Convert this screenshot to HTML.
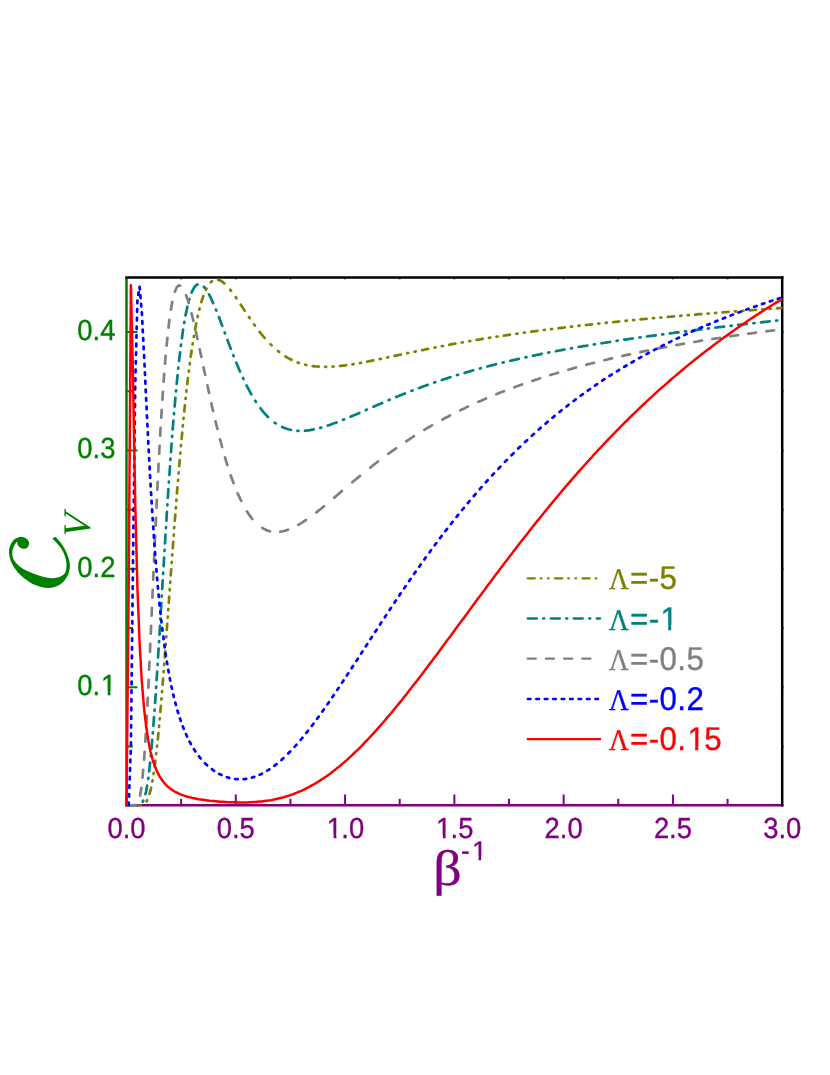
<!DOCTYPE html>
<html><head><meta charset="utf-8"><title>C_V vs beta^-1</title>
<style>html,body{margin:0;padding:0;background:#fff}svg{display:block;will-change:transform}text{white-space:pre}</style></head>
<body>
<svg width="830" height="1075" viewBox="0 0 830 1075" text-rendering="geometricPrecision">
<rect width="830" height="1075" fill="#fff"/>
<defs><clipPath id="pc"><rect x="125.5" y="277.6" width="657.0" height="528.9"/></clipPath></defs>
<g stroke-width="2.5" fill="none">
<line x1="125.25" y1="805.30" x2="783.45" y2="805.30" stroke="#800080"/>
<line x1="126.50" y1="277.60" x2="126.50" y2="806.55" stroke="#008000"/>
<line x1="125.25" y1="277.60" x2="783.45" y2="277.60" stroke="#000"/>
<line x1="782.20" y1="276.35" x2="782.20" y2="806.55" stroke="#000"/>
<line x1="181.14" y1="277.60" x2="181.14" y2="279.40" stroke="#000" stroke-width="2" stroke-opacity="0.6"/>
<line x1="235.78" y1="277.60" x2="235.78" y2="279.40" stroke="#000" stroke-width="2" stroke-opacity="0.6"/>
<line x1="290.43" y1="277.60" x2="290.43" y2="279.40" stroke="#000" stroke-width="2" stroke-opacity="0.6"/>
<line x1="345.07" y1="277.60" x2="345.07" y2="279.40" stroke="#000" stroke-width="2" stroke-opacity="0.6"/>
<line x1="399.71" y1="277.60" x2="399.71" y2="279.40" stroke="#000" stroke-width="2" stroke-opacity="0.6"/>
<line x1="454.36" y1="277.60" x2="454.36" y2="279.40" stroke="#000" stroke-width="2" stroke-opacity="0.6"/>
<line x1="509.00" y1="277.60" x2="509.00" y2="279.40" stroke="#000" stroke-width="2" stroke-opacity="0.6"/>
<line x1="563.64" y1="277.60" x2="563.64" y2="279.40" stroke="#000" stroke-width="2" stroke-opacity="0.6"/>
<line x1="618.28" y1="277.60" x2="618.28" y2="279.40" stroke="#000" stroke-width="2" stroke-opacity="0.6"/>
<line x1="672.92" y1="277.60" x2="672.92" y2="279.40" stroke="#000" stroke-width="2" stroke-opacity="0.6"/>
<line x1="727.57" y1="277.60" x2="727.57" y2="279.40" stroke="#000" stroke-width="2" stroke-opacity="0.6"/>
<line x1="782.20" y1="746.49" x2="783.80" y2="746.49" stroke="#000" stroke-width="2" stroke-opacity="0.6"/>
<line x1="782.20" y1="687.28" x2="783.80" y2="687.28" stroke="#000" stroke-width="2" stroke-opacity="0.6"/>
<line x1="782.20" y1="628.07" x2="783.80" y2="628.07" stroke="#000" stroke-width="2" stroke-opacity="0.6"/>
<line x1="782.20" y1="568.86" x2="783.80" y2="568.86" stroke="#000" stroke-width="2" stroke-opacity="0.6"/>
<line x1="782.20" y1="509.65" x2="783.80" y2="509.65" stroke="#000" stroke-width="2" stroke-opacity="0.6"/>
<line x1="782.20" y1="450.44" x2="783.80" y2="450.44" stroke="#000" stroke-width="2" stroke-opacity="0.6"/>
<line x1="782.20" y1="391.23" x2="783.80" y2="391.23" stroke="#000" stroke-width="2" stroke-opacity="0.6"/>
<line x1="782.20" y1="332.02" x2="783.80" y2="332.02" stroke="#000" stroke-width="2" stroke-opacity="0.6"/>
</g>
<g stroke-width="2" fill="none">
<line x1="126.50" y1="746.49" x2="133.00" y2="746.49" stroke="#008000"/>
<line x1="126.50" y1="687.28" x2="137.50" y2="687.28" stroke="#008000"/>
<line x1="126.50" y1="628.07" x2="133.00" y2="628.07" stroke="#008000"/>
<line x1="126.50" y1="568.86" x2="137.50" y2="568.86" stroke="#008000"/>
<line x1="126.50" y1="509.65" x2="133.00" y2="509.65" stroke="#008000"/>
<line x1="126.50" y1="450.44" x2="137.50" y2="450.44" stroke="#008000"/>
<line x1="126.50" y1="391.23" x2="133.00" y2="391.23" stroke="#008000"/>
<line x1="126.50" y1="332.02" x2="137.50" y2="332.02" stroke="#008000"/>
<line x1="126.50" y1="805.30" x2="126.50" y2="794.50" stroke="#800080"/>
<line x1="181.14" y1="805.30" x2="181.14" y2="798.80" stroke="#800080"/>
<line x1="235.78" y1="805.30" x2="235.78" y2="794.50" stroke="#800080"/>
<line x1="290.43" y1="805.30" x2="290.43" y2="798.80" stroke="#800080"/>
<line x1="345.07" y1="805.30" x2="345.07" y2="794.50" stroke="#800080"/>
<line x1="399.71" y1="805.30" x2="399.71" y2="798.80" stroke="#800080"/>
<line x1="454.36" y1="805.30" x2="454.36" y2="794.50" stroke="#800080"/>
<line x1="509.00" y1="805.30" x2="509.00" y2="798.80" stroke="#800080"/>
<line x1="563.64" y1="805.30" x2="563.64" y2="794.50" stroke="#800080"/>
<line x1="618.28" y1="805.30" x2="618.28" y2="798.80" stroke="#800080"/>
<line x1="672.92" y1="805.30" x2="672.92" y2="794.50" stroke="#800080"/>
<line x1="727.57" y1="805.30" x2="727.57" y2="798.80" stroke="#800080"/>
</g>
<g clip-path="url(#pc)" fill="none" stroke-width="2.7" stroke-linejoin="round" stroke-linecap="round">
<path d="M782.2 307.9 L780.0 308.1 L777.8 308.2 L777.1 308.3M770.8 308.7 L769.7 308.8M763.4 309.3 L762.5 309.3 L762.2 309.4M755.9 309.8 L753.8 310.0 L751.6 310.2 L749.8 310.3M743.5 310.8 L742.9 310.8 L742.4 310.8M736.0 311.3 L734.9 311.4M728.6 311.9 L727.6 312.0 L725.4 312.1 L723.2 312.3 L722.5 312.4M716.2 312.9 L715.0 313.0M708.7 313.5 L707.9 313.5 L707.6 313.6M701.3 314.1 L699.2 314.2 L697.0 314.4 L695.2 314.6M688.9 315.1 L688.2 315.2 L687.7 315.2M681.4 315.7 L680.3 315.8M674.0 316.4 L672.9 316.5 L670.7 316.7 L668.6 316.8 L667.8 316.9M661.5 317.5 L660.4 317.6M654.1 318.1 L653.3 318.2 L652.9 318.2M646.6 318.8 L644.5 319.0 L642.3 319.2 L640.5 319.4M634.2 320.0 L633.6 320.1 L633.1 320.1M626.8 320.7 L625.6 320.8M619.3 321.5 L618.3 321.6 L616.1 321.8 L613.9 322.0 L613.2 322.1M606.9 322.7 L605.8 322.9M599.4 323.5 L598.6 323.6 L598.3 323.6M592.0 324.3 L589.9 324.6 L587.7 324.8 L585.9 325.0M579.6 325.7 L578.9 325.8 L578.4 325.8M572.1 326.6 L571.0 326.7M564.7 327.4 L563.6 327.6 L561.5 327.8 L559.3 328.1 L558.6 328.2M552.2 329.0 L551.1 329.1M544.8 329.9 L544.0 330.0 L543.7 330.0M537.4 330.9 L535.2 331.2 L533.0 331.4 L531.2 331.7M524.9 332.6 L524.3 332.6 L523.8 332.7M517.5 333.6 L516.3 333.8M510.0 334.7 L509.0 334.8 L506.8 335.2 L504.6 335.5 L503.9 335.6M497.6 336.5 L496.5 336.7M490.2 337.7 L489.3 337.8 L489.0 337.9M482.7 338.9 L480.6 339.3 L478.4 339.6 L476.6 339.9M470.3 341.0 L469.7 341.1 L469.2 341.2M462.8 342.3 L461.7 342.5M455.4 343.6 L454.4 343.8 L452.2 344.2 L450.0 344.6 L449.3 344.8M443.0 346.0 L441.8 346.2M435.5 347.4 L434.7 347.6 L434.4 347.6M428.1 348.9 L425.9 349.3 L423.8 349.8 L422.0 350.1M415.7 351.4 L415.0 351.6 L414.5 351.7M408.2 353.0 L407.1 353.2M400.8 354.6 L399.7 354.8 L397.5 355.3 L395.3 355.7 L394.6 355.9M388.3 357.2 L387.2 357.5M380.9 358.8 L380.0 359.0 L379.7 359.1M373.4 360.4 L371.3 360.8 L369.1 361.2 L367.3 361.6M361.0 362.8 L360.4 362.9 L359.9 363.0M353.6 364.1 L352.4 364.3M346.1 365.2 L345.1 365.4 L342.9 365.6 L340.7 365.9 L340.0 366.0M333.7 366.5 L332.6 366.6M326.2 366.8 L325.4 366.8 L325.1 366.8M318.8 366.7 L316.7 366.5 L314.5 366.3 L312.7 366.1M306.4 365.0 L305.7 364.8 L305.2 364.7M298.9 362.9 L297.8 362.5M291.5 359.8 L290.4 359.2 L288.2 358.1 L286.1 356.8 L285.4 356.4M279.1 351.9 L277.9 351.0M271.6 345.4 L270.8 344.6 L270.5 344.3M264.6 338.0 L264.2 337.5 L262.0 334.9 L259.8 332.2 L259.6 331.9M254.9 325.6 L254.1 324.4M249.7 318.1 L248.9 317.0 L248.9 317.0M244.7 310.7 L242.3 307.1 L240.7 304.6M236.4 298.3 L235.8 297.3 L235.7 297.1M231.1 290.8 L230.2 289.7M224.4 283.4 L222.7 282.0 L220.5 280.7 L218.3 279.8 L218.3 279.8M212.0 281.3 L210.8 282.3M206.5 288.6 L205.9 289.8M203.3 296.1 L203.0 296.8 L201.3 302.2M199.6 308.5 L199.3 309.6M197.8 315.9 L197.6 317.1M196.2 323.4 L195.1 329.5M193.9 335.8 L193.8 336.9M192.7 343.3 L192.6 344.4M191.6 350.7 L190.7 356.8M189.8 363.1 L189.7 364.3M188.9 370.6 L188.8 371.7M188.0 378.0 L187.7 380.1 L187.2 384.1M186.5 390.4 L186.4 391.6M185.7 397.9 L185.6 399.0M184.9 405.3 L184.3 411.5M183.6 417.8 L183.5 418.9M182.9 425.2 L182.8 426.4M182.2 432.7 L181.6 438.8M181.0 445.1 L180.9 446.2M180.4 452.5 L180.3 453.7M179.7 460.0 L179.2 466.1M178.7 472.4 L178.6 473.5M178.1 479.9 L178.0 481.0M177.4 487.3 L176.9 493.4M176.4 499.7 L176.4 500.9M175.9 507.2 L175.8 508.3M175.3 514.6 L174.8 520.7M174.3 527.0 L174.2 528.2M173.8 534.5 L173.7 535.6M173.2 541.9 L172.8 548.1M172.3 554.4 L172.2 555.5M171.7 561.8 L171.7 563.0M171.2 569.3 L170.7 575.4M170.3 581.7 L170.2 582.7 L170.2 582.8M169.7 589.1 L169.7 590.3M169.2 596.6 L168.8 602.7M168.3 609.0 L168.2 610.1M167.8 616.5 L167.7 617.6M167.2 623.9 L166.8 630.0M166.3 636.3 L166.2 637.5M165.8 643.8 L165.7 644.9M165.2 651.2 L164.7 657.3M164.3 663.6 L164.2 664.8M163.7 671.1 L163.7 671.7 L163.6 672.2M163.1 678.5 L162.6 684.7M162.1 691.0 L162.0 692.1M161.5 698.4 L161.5 699.0 L161.4 699.6M160.9 705.9 L160.3 712.0M159.8 718.3 L159.7 719.4M159.1 725.7 L159.0 726.9M158.4 733.2 L157.8 739.3M157.1 745.6 L157.0 746.7M156.3 753.1 L156.1 754.2M155.4 760.5 L154.9 764.7 L154.6 766.6M153.7 772.9 L153.5 774.1M152.6 780.4 L152.3 781.5M151.1 787.8 L150.5 790.5 L149.5 793.9M147.1 800.2 L146.6 801.4M140.7 805.3 L139.6 805.4 L139.5 805.4M133.2 805.4 L130.9 805.4 L128.7 805.4 L127.1 805.4" stroke="#808000"/>
<path d="M777.3 320.5 L776.2 320.6M769.7 321.3 L769.1 321.4 L766.9 321.7 L764.7 321.9 L762.5 322.1 L761.0 322.3M754.5 323.1 L753.8 323.1 L753.4 323.2M746.9 323.9 L745.1 324.1 L742.9 324.4 L740.7 324.7 L738.5 324.9 L738.2 324.9M731.7 325.7 L730.6 325.8M724.1 326.6 L723.2 326.7 L721.0 327.0 L718.8 327.2 L716.6 327.5 L715.4 327.7M708.9 328.4 L707.9 328.6 L707.8 328.6M701.3 329.4 L699.2 329.6 L697.0 329.9 L694.8 330.2 L692.6 330.5 L692.6 330.5M686.1 331.3 L685.0 331.4M678.5 332.3 L677.3 332.4 L675.1 332.7 L672.9 333.0 L670.7 333.3 L669.8 333.4M663.3 334.3 L662.2 334.4M655.7 335.3 L653.3 335.6 L651.1 335.9 L648.9 336.2 L647.0 336.5M640.5 337.4 L639.4 337.5M632.9 338.5 L631.4 338.7 L629.2 339.0 L627.0 339.3 L624.8 339.6 L624.2 339.7M617.7 340.7 L616.6 340.9M610.1 341.9 L609.5 342.0 L607.4 342.3 L605.2 342.7 L603.0 343.0 L601.4 343.3M594.9 344.3 L594.2 344.4 L593.8 344.5M587.3 345.6 L585.5 345.9 L583.3 346.2 L581.1 346.6 L578.9 347.0 L578.6 347.0M572.1 348.2 L571.0 348.4M564.5 349.5 L563.6 349.7 L561.5 350.1 L559.3 350.5 L557.1 350.9 L555.8 351.2M549.3 352.4 L548.3 352.6 L548.2 352.6M541.7 353.9 L539.6 354.4 L537.4 354.8 L535.2 355.3 L533.0 355.7 L533.0 355.7M526.5 357.1 L525.4 357.4M518.9 358.8 L517.7 359.1 L515.6 359.6 L513.4 360.1 L511.2 360.6 L510.2 360.8M503.7 362.4 L502.6 362.6M496.1 364.2 L493.7 364.8 L491.5 365.4 L489.3 366.0 L487.4 366.5M480.9 368.2 L479.8 368.5M473.3 370.3 L471.8 370.7 L469.7 371.4 L467.5 372.0 L465.3 372.6 L464.6 372.9M458.1 374.8 L457.0 375.1M450.5 377.2 L450.0 377.3 L447.8 378.1 L445.6 378.8 L443.4 379.5 L441.8 380.0M435.3 382.2 L434.7 382.4 L434.2 382.6M427.7 384.9 L425.9 385.5 L423.8 386.3 L421.6 387.1 L419.4 387.9 L419.0 388.1M412.5 390.5 L411.4 390.9M404.9 393.5 L404.1 393.8 L401.9 394.7 L399.7 395.6 L397.5 396.5 L396.2 397.0M389.7 399.7 L388.8 400.1 L388.6 400.2M382.1 403.0 L380.0 403.9 L377.9 404.8 L375.7 405.7 L373.5 406.7 L373.4 406.7M366.9 409.6 L365.8 410.1M359.3 412.9 L358.2 413.4 L356.0 414.4 L353.8 415.3 L351.6 416.2 L350.6 416.7M344.1 419.4 L343.0 419.8M336.5 422.4 L334.1 423.3 L332.0 424.1 L329.8 424.9 L327.8 425.6M321.3 427.6 L320.2 427.9M313.7 429.4 L312.3 429.7 L310.1 430.1 L307.9 430.4 L305.7 430.6 L305.0 430.7M298.5 430.8 L297.4 430.8M290.9 429.9 L290.4 429.8 L288.2 429.2 L286.1 428.5 L283.9 427.7 L282.2 427.0M275.7 423.3 L275.1 422.9 L274.6 422.6M268.1 417.1 L266.4 415.3 L264.2 412.9 L262.0 410.3 L260.5 408.3M255.9 401.8 L255.5 401.2 L255.2 400.8M251.3 394.3 L248.9 389.9 L246.7 385.7 L246.6 385.5M243.5 379.0 L243.0 378.0M240.0 371.5 L238.0 366.7 L236.3 362.7M233.7 356.2 L233.3 355.2M230.8 348.7 L229.2 344.7 L227.4 339.9M225.0 333.4 L224.6 332.4M222.2 325.9 L220.5 321.3 L218.9 317.1M216.3 310.6 L216.1 310.1 L215.9 309.6M213.1 303.1 L211.7 299.9 L209.6 295.4 L208.9 294.3M204.8 287.8 L203.9 286.8M197.5 284.5 L196.4 284.9 L194.3 287.3 L192.1 291.4 L191.6 292.6M189.4 299.1 L189.1 300.2M187.4 306.7 L185.5 315.4M184.4 321.9 L184.2 323.0M183.1 329.5 L181.9 338.2M181.0 344.7 L180.9 345.8M180.1 352.3 L179.0 361.0M178.3 367.5 L178.2 368.6M177.6 375.1 L176.8 382.6 L176.7 383.8M176.1 390.3 L176.0 391.4M175.4 397.9 L174.6 406.5 L174.6 406.6M174.0 413.1 L174.0 414.2M173.4 420.7 L172.7 429.4M172.2 435.9 L172.1 437.0M171.6 443.5 L171.0 452.2M170.5 458.7 L170.4 459.8M170.0 466.3 L169.4 475.0M168.9 481.5 L168.9 482.6M168.4 489.1 L168.0 494.8 L167.8 497.8M167.4 504.3 L167.4 505.4M166.9 511.9 L166.4 520.6M166.0 527.1 L165.9 528.2M165.5 534.7 L165.0 543.4M164.6 549.9 L164.5 551.0M164.1 557.5 L163.7 564.6 L163.6 566.2M163.2 572.7 L163.1 573.8M162.7 580.3 L162.2 589.0M161.8 595.5 L161.7 596.6M161.4 603.1 L160.8 611.8M160.4 618.3 L160.4 619.4M160.0 625.9 L159.5 634.6M159.1 641.1 L159.0 642.2M158.6 648.7 L158.0 657.4M157.6 663.9 L157.6 665.0M157.2 671.5 L157.1 672.6 L156.6 680.2M156.2 686.7 L156.1 687.8M155.7 694.3 L155.1 703.0M154.6 709.5 L154.5 710.6M154.0 717.1 L153.4 725.8M152.9 732.3 L152.8 733.4M152.2 739.9 L151.5 748.6M150.9 755.1 L150.8 756.2M150.1 762.7 L149.1 771.4M148.4 777.9 L148.2 779.0M147.1 785.5 L146.2 791.3 L145.4 794.2M143.3 800.7 L142.7 801.8M137.0 805.4 L135.2 805.4 L133.1 805.4 L130.9 805.4 L128.7 805.4 L128.3 805.4" stroke="#008080"/>
<path d="M774.0 330.3 L773.5 330.4 L771.3 330.7 L769.1 331.0 L766.9 331.2 L766.3 331.3M756.0 332.7 L753.8 333.0 L751.6 333.3 L749.4 333.5 L748.3 333.7M738.0 335.1 L736.3 335.4 L734.1 335.7 L731.9 336.0 L730.3 336.3M720.0 337.8 L718.8 338.0 L716.6 338.3 L714.5 338.6 L712.3 339.0M702.0 340.6 L701.3 340.7 L699.2 341.1 L697.0 341.5 L694.8 341.8 L694.3 341.9M684.0 343.7 L681.7 344.1 L679.5 344.5 L677.3 344.9 L676.3 345.1M666.0 347.0 L664.2 347.3 L662.0 347.7 L659.8 348.1 L658.3 348.4M648.0 350.5 L646.7 350.7 L644.5 351.2 L642.3 351.6 L640.3 352.1M630.0 354.3 L629.2 354.4 L627.0 354.9 L624.8 355.4 L622.7 355.9 L622.3 356.0M612.0 358.4 L609.5 358.9 L607.4 359.5 L605.2 360.0 L604.3 360.2M594.0 362.8 L592.1 363.3 L589.9 363.8 L587.7 364.4 L586.3 364.8M576.0 367.5 L574.6 367.9 L572.4 368.6 L570.2 369.2 L568.3 369.7M558.0 372.7 L557.1 373.0 L554.9 373.7 L552.7 374.3 L550.5 375.0 L550.3 375.1M540.0 378.3 L537.4 379.2 L535.2 379.9 L533.0 380.7 L532.3 380.9M522.0 384.5 L519.9 385.2 L517.7 386.0 L515.6 386.8 L514.3 387.3M504.0 391.2 L502.4 391.8 L500.3 392.6 L498.1 393.5 L496.3 394.2M486.0 398.5 L485.0 399.0 L482.8 399.9 L480.6 400.9 L478.4 401.8 L478.3 401.9M468.0 406.6 L467.5 406.8 L465.3 407.9 L463.1 408.9 L460.9 410.0 L460.3 410.3M450.0 415.5 L447.8 416.7 L445.6 417.8 L443.4 419.0 L442.3 419.6M432.0 425.3 L430.3 426.3 L428.1 427.6 L425.9 428.9 L424.3 429.9M414.0 436.2 L412.8 437.0 L410.6 438.4 L408.5 439.8 L406.3 441.3M396.0 448.3 L395.3 448.8 L393.2 450.3 L391.0 451.9 L388.8 453.5 L388.3 453.8M378.0 461.5 L375.7 463.3 L373.5 465.0 L371.3 466.8 L370.3 467.6M360.0 475.9 L358.2 477.4 L356.0 479.2 L353.8 481.0 L352.3 482.3M342.0 491.0 L340.7 492.1 L338.5 494.0 L336.3 495.9 L334.3 497.6M324.0 506.2 L323.2 506.9 L321.0 508.7 L318.8 510.4 L316.7 512.1 L316.3 512.4M306.0 520.0 L303.5 521.6 L301.4 523.0 L299.2 524.4 L298.3 524.9M288.0 529.7 L286.1 530.4 L283.9 531.0 L281.7 531.5 L280.3 531.7M270.0 531.3 L268.6 530.9 L266.4 530.1 L264.2 529.1 L262.3 528.0M252.4 519.0 L251.1 517.4 L248.9 514.4 L246.9 511.3M241.2 501.0 L240.2 498.9 L238.0 494.1 L237.6 493.3M233.5 483.0 L231.4 477.2 L230.7 475.3M227.4 465.0 L227.0 464.0 L225.0 457.3M222.1 447.0 L220.5 441.0 L220.0 439.3M217.4 429.0 L216.1 423.7 L215.5 421.3M213.1 411.0 L211.7 405.0 L211.4 403.3M209.1 393.0 L207.4 385.3M205.2 375.0 L203.5 367.3M201.4 357.0 L200.8 354.4 L199.7 349.3M197.5 339.0 L196.4 334.2 L195.8 331.3M193.4 321.0 L192.1 315.5 L191.5 313.3M188.7 303.0 L187.7 299.7 L186.1 295.3M180.2 285.7 L179.0 285.3 L176.8 287.3 L174.9 291.6M172.3 301.8 L170.9 309.6M169.4 319.8 L168.5 327.6M167.4 337.8 L166.6 345.6M165.6 355.8 L165.0 363.6M164.2 373.8 L163.7 380.5 L163.6 381.6M162.9 391.8 L162.4 399.6M161.7 409.8 L161.5 413.3 L161.2 417.6M160.6 427.8 L160.2 435.6M159.6 445.8 L159.3 451.3 L159.2 453.6M158.6 463.8 L158.3 471.6M157.7 481.8 L157.3 489.6M156.8 499.8 L156.5 507.6M156.0 517.8 L155.6 525.6M155.2 535.8 L154.9 540.9 L154.8 543.6M154.3 553.8 L154.0 561.6M153.5 571.8 L153.2 579.6M152.7 589.8 L152.4 597.6M151.9 607.8 L151.6 615.6M151.1 625.8 L150.8 633.6M150.3 643.8 L150.0 651.6M149.5 661.8 L149.1 669.6M148.7 679.8 L148.4 686.6 L148.3 687.6M147.8 697.8 L147.4 705.6M146.8 715.8 L146.4 723.6M145.8 733.8 L145.3 741.6M144.6 751.8 L144.1 759.6M143.2 769.8 L142.5 777.6M141.4 787.8 L140.1 795.6M135.6 805.1 L133.1 805.4 L130.9 805.4 L128.7 805.4 L127.8 805.4" stroke="#808080"/>
<path d="M780.2 298.1 L777.8 298.8 L777.8 298.8M772.3 300.6 L771.3 301.0 L769.9 301.4M764.4 303.3 L762.5 303.9 L762.0 304.1M756.5 306.0 L756.0 306.2 L754.1 306.8M748.6 308.8 L747.2 309.3 L746.3 309.7M740.8 311.7 L738.5 312.5 L738.4 312.5M733.0 314.6 L731.9 315.0 L730.6 315.5M725.2 317.6 L723.2 318.4 L722.8 318.6M717.4 320.7 L716.6 321.0 L715.1 321.7M709.7 323.9 L707.9 324.7 L707.3 324.9M702.0 327.2 L701.3 327.5 L699.6 328.2M694.3 330.6 L692.6 331.3 L691.9 331.6M686.6 334.0 L686.0 334.3 L684.3 335.1M679.0 337.6 L677.3 338.4 L676.7 338.7M671.4 341.2 L670.7 341.6 L669.1 342.4M663.8 345.0 L662.0 345.9 L661.5 346.2M656.3 348.9 L655.4 349.3 L654.0 350.1M648.8 352.9 L646.7 354.0 L646.5 354.1M641.3 357.0 L640.1 357.6 L639.0 358.2M633.9 361.2 L631.6 362.5M626.5 365.5 L624.8 366.5 L624.2 366.8M619.1 370.0 L618.3 370.5 L616.9 371.3M611.8 374.5 L609.5 375.9M604.5 379.2 L603.0 380.2 L602.3 380.7M597.2 384.1 L596.4 384.6 L595.0 385.6M590.0 389.1 L587.8 390.6M582.9 394.2 L581.1 395.4 L580.7 395.7M575.7 399.4 L574.6 400.3 L573.6 401.0M568.6 404.8 L568.0 405.3 L566.5 406.5M561.6 410.3 L559.5 412.0M554.6 416.0 L552.7 417.6 L552.5 417.8M547.7 421.8 L546.2 423.1 L545.6 423.6M540.7 427.8 L539.6 428.8 L538.7 429.6M533.9 433.9 L533.0 434.7 L531.8 435.8M527.1 440.2 L526.5 440.7 L525.0 442.1M520.3 446.6 L518.2 448.6M513.6 453.2 L511.5 455.2M506.9 459.9 L504.9 461.9M500.4 466.6 L498.4 468.7M494.0 473.4 L492.1 475.4M487.7 480.2 L487.1 480.8 L485.8 482.3M481.6 487.1 L480.6 488.2 L479.8 489.2M475.6 494.0 L474.0 495.8 L473.8 496.1M469.7 500.9 L467.9 503.0M463.9 507.9 L463.1 508.8 L462.1 510.0M458.2 514.8 L456.5 516.9 L456.5 517.0M452.6 521.9 L452.2 522.4 L450.9 524.0M447.1 528.9 L445.6 530.8 L445.4 531.1M441.7 536.0 L441.2 536.5 L440.0 538.1M436.3 543.1 L434.7 545.2M431.0 550.2 L430.3 551.2 L429.5 552.4M425.8 557.3 L424.3 559.5M420.7 564.5 L419.4 566.4 L419.2 566.7M415.6 571.7 L415.0 572.6 L414.1 573.9M410.6 578.9 L409.1 581.1M405.7 586.1 L404.2 588.3M400.7 593.3 L399.7 594.8 L399.3 595.5M395.9 600.5 L395.3 601.3 L394.4 602.7M391.0 607.8 L389.6 610.0M386.2 615.1 L384.8 617.3M381.4 622.3 L380.0 624.5 L380.0 624.5M376.7 629.6 L375.7 631.2 L375.2 631.8M371.9 636.9 L371.3 637.9 L370.5 639.1M367.2 644.2 L366.9 644.6 L365.8 646.4M362.5 651.4 L361.1 653.6M357.8 658.7 L356.3 660.9M353.0 666.0 L351.6 668.2 L351.6 668.2M348.3 673.3 L347.3 674.8 L346.8 675.5M343.5 680.5 L342.9 681.5 L342.0 682.7M338.7 687.8 L337.2 690.0M333.8 695.0 L332.3 697.2M328.9 702.2 L327.6 704.1 L327.3 704.4M323.8 709.4 L323.2 710.3 L322.3 711.6M318.7 716.6 L317.1 718.8M313.4 723.7 L312.3 725.3 L311.8 725.9M308.0 730.8 L306.3 732.9M302.4 737.8 L301.4 739.0 L300.6 739.9M296.5 744.7 L294.8 746.6 L294.6 746.8M290.2 751.5 L288.2 753.5 L288.2 753.6M283.5 758.1 L281.7 759.8 L281.4 760.0M276.6 764.1 L275.1 765.2 L274.4 765.8M269.4 769.3 L268.6 769.9 L267.2 770.7M262.0 773.7 L259.8 774.7 L259.7 774.8M254.3 776.9 L253.3 777.2 L251.9 777.6M246.2 778.8 L244.5 779.1 L243.6 779.1M237.7 779.2 L235.8 779.1 L235.1 779.0M229.3 777.9 L227.0 777.2 L226.9 777.2M221.5 775.0 L220.5 774.5 L219.2 773.9M214.1 770.8 L211.9 769.2M207.1 765.2 L205.2 763.4 L205.0 763.2M200.7 758.5 L199.0 756.3M195.4 751.4 L194.3 749.7 L193.9 749.2M190.9 744.0 L189.9 742.2 L189.6 741.7M187.0 736.5 L186.0 734.1M183.7 728.8 L183.3 727.9 L182.8 726.4M180.8 720.9 L180.0 718.5M178.2 713.0 L177.5 710.6M175.9 705.0 L175.3 702.6M173.8 696.9 L173.3 694.5M172.0 688.8 L171.4 686.3M170.2 680.6 L169.8 678.1M168.7 672.4 L168.3 669.9M167.3 664.1 L166.9 661.6M165.9 655.8 L165.8 655.2 L165.6 653.3M164.7 647.4 L164.4 644.9M163.6 639.1 L163.3 636.6M162.5 630.7 L162.2 628.2M161.5 622.3 L161.2 619.8M160.6 613.9 L160.3 611.3M159.7 605.5 L159.4 602.9M158.8 597.0 L158.6 594.5M158.0 588.6 L157.8 586.0M157.3 580.1 L157.1 578.4 L157.0 577.5M156.6 571.6 L156.3 569.0M155.9 563.1 L155.7 560.5M155.2 554.6 L155.0 552.0M154.5 546.1 L154.4 543.5M153.9 537.6 L153.8 535.0M153.4 529.1 L153.2 526.5M152.8 520.5 L152.6 518.0M152.2 512.0 L152.1 509.4M151.7 503.5 L151.5 500.9M151.2 494.9 L151.0 492.3M150.7 486.4 L150.5 484.4 L150.5 483.8M150.2 477.8 L150.0 475.2M149.7 469.3 L149.6 466.7M149.3 460.7 L149.1 458.1M148.8 452.1 L148.7 449.5M148.3 443.6 L148.2 441.0M147.9 435.0 L147.8 432.4M147.5 426.4 L147.4 423.8M147.1 417.9 L146.9 415.3M146.6 409.3 L146.5 406.7M146.2 400.7 L146.2 399.7 L146.1 398.1M145.8 392.1 L145.7 389.5M145.4 383.6 L145.3 380.9M145.0 375.0 L144.9 372.4M144.6 366.4 L144.5 363.8M144.2 357.8 L144.1 355.2M143.7 349.2 L143.6 346.6M143.3 340.7 L143.2 338.1M142.8 332.1 L142.7 329.5M142.4 323.6 L142.3 321.0M142.0 315.0 L141.8 312.4M141.3 306.5 L141.1 303.9M140.6 298.0 L140.4 295.4M139.9 289.5 L139.6 286.9M138.7 292.3 L138.3 294.8M137.4 300.6 L137.3 303.2M137.2 309.2 L137.1 311.8M137.0 317.8 L136.9 320.5M136.7 326.5 L136.7 329.1M136.5 335.1 L136.4 337.7M136.3 343.7 L136.2 346.4M136.1 352.4 L136.0 355.0M135.8 361.0 L135.8 363.6M135.6 369.6 L135.5 372.3M135.4 378.3 L135.3 380.9M135.2 386.9 L135.2 389.5M135.1 395.6 L135.1 398.2M135.0 404.2 L135.0 406.9M134.9 412.9 L134.8 415.5M134.8 421.6 L134.7 424.2M134.7 430.3 L134.6 432.9M134.6 438.9 L134.5 441.5M134.4 447.6 L134.4 450.2M134.3 456.3 L134.3 458.9M134.2 464.9 L134.2 467.5M134.1 473.6 L134.1 476.2M134.0 482.3 L134.0 484.9M133.9 490.9 L133.9 493.6M133.8 499.6 L133.8 502.2M133.7 508.3 L133.6 510.9M133.6 516.9 L133.5 519.6M133.5 525.6 L133.4 528.2M133.3 534.3 L133.3 536.9M133.2 542.9 L133.2 545.6M133.1 551.6 L133.1 554.2M133.0 560.3 L133.0 562.9M132.9 568.9 L132.9 571.6M132.8 577.6 L132.8 580.2M132.7 586.3 L132.7 588.9M132.6 594.9 L132.6 597.6M132.5 603.6 L132.5 606.2M132.4 612.3 L132.4 614.9M132.3 621.0 L132.3 623.6M132.2 629.6 L132.2 632.3M132.1 638.3 L132.1 640.9M132.0 647.0 L132.0 649.6M131.9 655.6 L131.9 658.3M131.8 664.3 L131.8 666.9M131.7 673.0 L131.7 675.6M131.6 681.6 L131.6 684.3M131.5 690.3 L131.5 692.9M131.4 699.0 L131.4 701.6M131.3 707.7 L131.3 710.3M131.2 716.3 L131.2 719.0M131.1 725.0 L131.1 727.6M131.0 733.7 L131.0 736.3M130.9 742.3 L130.9 745.0M130.8 751.0 L130.7 753.6M130.4 759.6 L130.3 762.2M130.1 768.2 L130.0 770.8M129.8 776.8 L129.7 779.4M129.4 785.4 L129.3 788.0M129.1 794.0 L129.0 796.6M128.8 802.6 L128.7 805.2 L128.7 805.2" stroke="#0000ff"/>
<path d="M782.2 299.0 L780.0 300.3 L777.8 301.6 L775.7 302.9 L773.5 304.3 L771.3 305.7 L769.1 307.0 L766.9 308.4 L764.7 309.8 L762.5 311.2 L760.4 312.6 L758.2 314.0 L756.0 315.4 L753.8 316.9 L751.6 318.3 L749.4 319.8 L747.2 321.2 L745.1 322.7 L742.9 324.2 L740.7 325.7 L738.5 327.2 L736.3 328.7 L734.1 330.3 L731.9 331.8 L729.8 333.4 L727.6 334.9 L725.4 336.5 L723.2 338.1 L721.0 339.7 L718.8 341.3 L716.6 342.9 L714.5 344.6 L712.3 346.2 L710.1 347.9 L707.9 349.6 L705.7 351.2 L703.5 352.9 L701.3 354.6 L699.2 356.3 L697.0 358.1 L694.8 359.8 L692.6 361.6 L690.4 363.3 L688.2 365.1 L686.0 366.9 L683.9 368.7 L681.7 370.5 L679.5 372.4 L677.3 374.2 L675.1 376.1 L672.9 377.9 L670.7 379.8 L668.6 381.7 L666.4 383.6 L664.2 385.6 L662.0 387.5 L659.8 389.4 L657.6 391.4 L655.4 393.4 L653.3 395.4 L651.1 397.4 L648.9 399.4 L646.7 401.4 L644.5 403.5 L642.3 405.5 L640.1 407.6 L638.0 409.7 L635.8 411.8 L633.6 413.9 L631.4 416.0 L629.2 418.2 L627.0 420.3 L624.8 422.5 L622.7 424.7 L620.5 426.9 L618.3 429.1 L616.1 431.3 L613.9 433.6 L611.7 435.8 L609.5 438.1 L607.4 440.4 L605.2 442.7 L603.0 445.0 L600.8 447.3 L598.6 449.7 L596.4 452.0 L594.2 454.4 L592.1 456.8 L589.9 459.2 L587.7 461.6 L585.5 464.0 L583.3 466.5 L581.1 468.9 L578.9 471.4 L576.8 473.9 L574.6 476.4 L572.4 478.9 L570.2 481.4 L568.0 483.9 L565.8 486.5 L563.6 489.1 L561.5 491.6 L559.3 494.2 L557.1 496.9 L554.9 499.5 L552.7 502.1 L550.5 504.8 L548.3 507.4 L546.2 510.1 L544.0 512.8 L541.8 515.5 L539.6 518.2 L537.4 520.9 L535.2 523.6 L533.0 526.4 L530.9 529.1 L528.7 531.9 L526.5 534.7 L524.3 537.5 L522.1 540.3 L519.9 543.1 L517.7 545.9 L515.6 548.7 L513.4 551.6 L511.2 554.4 L509.0 557.3 L506.8 560.2 L504.6 563.0 L502.4 565.9 L500.3 568.8 L498.1 571.7 L495.9 574.6 L493.7 577.5 L491.5 580.5 L489.3 583.4 L487.1 586.3 L485.0 589.3 L482.8 592.2 L480.6 595.2 L478.4 598.1 L476.2 601.1 L474.0 604.0 L471.8 607.0 L469.7 610.0 L467.5 612.9 L465.3 615.9 L463.1 618.9 L460.9 621.8 L458.7 624.8 L456.5 627.8 L454.4 630.7 L452.2 633.7 L450.0 636.7 L447.8 639.6 L445.6 642.6 L443.4 645.5 L441.2 648.5 L439.1 651.4 L436.9 654.4 L434.7 657.3 L432.5 660.2 L430.3 663.1 L428.1 666.0 L425.9 668.9 L423.8 671.8 L421.6 674.7 L419.4 677.5 L417.2 680.4 L415.0 683.2 L412.8 686.0 L410.6 688.8 L408.5 691.6 L406.3 694.4 L404.1 697.1 L401.9 699.9 L399.7 702.6 L397.5 705.3 L395.3 707.9 L393.2 710.6 L391.0 713.2 L388.8 715.8 L386.6 718.4 L384.4 721.0 L382.2 723.5 L380.0 726.0 L377.9 728.4 L375.7 730.9 L373.5 733.3 L371.3 735.7 L369.1 738.0 L366.9 740.3 L364.7 742.6 L362.6 744.9 L360.4 747.1 L358.2 749.3 L356.0 751.4 L353.8 753.5 L351.6 755.6 L349.4 757.6 L347.3 759.6 L345.1 761.5 L342.9 763.4 L340.7 765.2 L338.5 767.1 L336.3 768.8 L334.1 770.6 L332.0 772.2 L329.8 773.9 L327.6 775.5 L325.4 777.0 L323.2 778.5 L321.0 779.9 L318.8 781.3 L316.7 782.7 L314.5 784.0 L312.3 785.2 L310.1 786.4 L307.9 787.6 L305.7 788.7 L303.5 789.8 L301.4 790.8 L299.2 791.7 L297.0 792.7 L294.8 793.5 L292.6 794.3 L290.4 795.1 L288.2 795.9 L286.1 796.5 L283.9 797.2 L281.7 797.8 L279.5 798.3 L277.3 798.8 L275.1 799.3 L272.9 799.8 L270.8 800.2 L268.6 800.5 L266.4 800.8 L264.2 801.1 L262.0 801.4 L259.8 801.6 L257.6 801.8 L255.5 802.0 L253.3 802.1 L251.1 802.2 L248.9 802.3 L246.7 802.4 L244.5 802.4 L242.3 802.4 L240.2 802.4 L238.0 802.4 L235.8 802.4 L233.6 802.3 L231.4 802.3 L229.2 802.2 L227.0 802.1 L224.9 801.9 L222.7 801.8 L220.5 801.7 L218.3 801.5 L216.1 801.3 L213.9 801.1 L211.7 800.9 L209.6 800.7 L207.4 800.4 L205.2 800.1 L203.0 799.8 L200.8 799.5 L198.6 799.2 L196.4 798.8 L194.3 798.3 L192.1 797.9 L189.9 797.3 L187.7 796.8 L185.5 796.1 L183.3 795.4 L181.1 794.6 L179.0 793.7 L176.8 792.6 L174.6 791.5 L172.4 790.1 L170.2 788.6 L168.0 786.8 L165.8 784.7 L163.7 782.2 L161.5 779.3 L159.3 775.8 L157.1 771.6 L154.9 766.3 L152.7 759.8 L150.5 751.6 L148.4 740.9 L146.2 726.8 L144.0 707.8 L141.8 681.2 L139.6 643.1 L137.4 586.7 L135.2 501.8 L133.1 381.5 L130.9 285.3 L128.7 584.9 L126.5 805.4" stroke="#ff0000" stroke-width="2.5"/>
</g>
<g transform="translate(77.31 695.08) scale(1 1.060)"><text x="0" y="0" font-family="Liberation Sans, sans-serif" font-size="27.40" fill="#008000" stroke="#008000" stroke-width="0.35">0.<tspan dx="0.82">1</tspan></text><rect x="25.01" y="-3.61" width="5.38" height="5.35" fill="#fff"/><rect x="33.16" y="-3.61" width="5.72" height="5.35" fill="#fff"/></g>
<g transform="translate(77.31 576.66) scale(1 1.060)"><text x="0" y="0" font-family="Liberation Sans, sans-serif" font-size="27.40" fill="#008000" stroke="#008000" stroke-width="0.35">0.2</text></g>
<g transform="translate(77.31 458.24) scale(1 1.060)"><text x="0" y="0" font-family="Liberation Sans, sans-serif" font-size="27.40" fill="#008000" stroke="#008000" stroke-width="0.35">0.3</text></g>
<g transform="translate(77.31 339.82) scale(1 1.060)"><text x="0" y="0" font-family="Liberation Sans, sans-serif" font-size="27.40" fill="#008000" stroke="#008000" stroke-width="0.35">0.4</text></g>
<g transform="translate(107.46 838.40) scale(1 1.060)"><text x="0" y="0" font-family="Liberation Sans, sans-serif" font-size="27.40" fill="#800080" stroke="#800080" stroke-width="0.35">0.0</text></g>
<g transform="translate(216.74 838.40) scale(1 1.060)"><text x="0" y="0" font-family="Liberation Sans, sans-serif" font-size="27.40" fill="#800080" stroke="#800080" stroke-width="0.35">0.5</text></g>
<g transform="translate(326.03 838.40) scale(1 1.060)"><text x="0" y="0" font-family="Liberation Sans, sans-serif" font-size="27.40" fill="#800080" stroke="#800080" stroke-width="0.35"><tspan dx="0.82">1</tspan><tspan dx="-0.82">.</tspan>0</text><rect x="2.16" y="-3.61" width="5.38" height="5.35" fill="#fff"/><rect x="10.31" y="-3.61" width="5.72" height="5.35" fill="#fff"/></g>
<g transform="translate(435.31 838.40) scale(1 1.060)"><text x="0" y="0" font-family="Liberation Sans, sans-serif" font-size="27.40" fill="#800080" stroke="#800080" stroke-width="0.35"><tspan dx="0.82">1</tspan><tspan dx="-0.82">.</tspan>5</text><rect x="2.16" y="-3.61" width="5.38" height="5.35" fill="#fff"/><rect x="10.31" y="-3.61" width="5.72" height="5.35" fill="#fff"/></g>
<g transform="translate(544.60 838.40) scale(1 1.060)"><text x="0" y="0" font-family="Liberation Sans, sans-serif" font-size="27.40" fill="#800080" stroke="#800080" stroke-width="0.35">2.0</text></g>
<g transform="translate(653.88 838.40) scale(1 1.060)"><text x="0" y="0" font-family="Liberation Sans, sans-serif" font-size="27.40" fill="#800080" stroke="#800080" stroke-width="0.35">2.5</text></g>
<g transform="translate(763.17 838.40) scale(1 1.060)"><text x="0" y="0" font-family="Liberation Sans, sans-serif" font-size="27.40" fill="#800080" stroke="#800080" stroke-width="0.35">3.0</text></g>
<text transform="translate(433.2 885) scale(1.12 1)" font-family="Liberation Serif, serif" font-size="50" fill="#800080" stroke="#800080" stroke-width="0.3">β</text>
<g transform="translate(461.00 859.90) scale(1 1.040)"><text x="0" y="0" font-family="Liberation Sans, sans-serif" font-size="26.00" fill="#800080" stroke="#800080" stroke-width="0.35">-</text></g>
<g transform="translate(471.40 859.90) scale(1 1.040)"><text x="0" y="0" font-family="Liberation Sans, sans-serif" font-size="26.00" fill="#800080" stroke="#800080" stroke-width="0.35"><tspan dx="0.78">1</tspan></text><rect x="2.05" y="-3.43" width="5.09" height="5.08" fill="#fff"/><rect x="9.79" y="-3.43" width="5.43" height="5.08" fill="#fff"/></g>
<path fill="#008000" d="M55.61 536.94 C56.41 537.81 58.87 540.12 60.39 542.14 C61.90 544.17 63.42 546.63 64.72 549.08 C66.02 551.54 67.33 554.29 68.19 556.89 C69.06 559.49 69.78 562.24 69.93 564.70 C70.07 567.16 69.64 569.47 69.06 571.64 C68.48 573.81 67.61 575.83 66.46 577.71 C65.30 579.59 63.86 581.47 62.12 582.92 C60.39 584.36 58.22 585.55 56.05 586.39 C53.88 587.22 51.42 587.80 49.11 587.95 C46.80 588.09 44.48 587.73 42.17 587.25 C39.86 586.78 37.54 586.10 35.23 585.08 C32.92 584.07 30.60 582.70 28.29 581.18 C25.98 579.66 23.52 578.00 21.35 575.98 C19.18 573.95 17.01 571.49 15.28 569.04 C13.54 566.58 11.98 563.83 10.94 561.23 C9.90 558.63 9.25 555.73 9.03 553.42 C8.81 551.11 9.18 549.23 9.64 547.35 C10.10 545.47 10.87 543.59 11.81 542.14 C12.75 540.70 13.98 539.54 15.28 538.67 C16.58 537.81 18.17 537.16 19.61 536.94 C21.06 536.72 22.65 536.94 23.95 537.37 C25.25 537.81 26.55 538.57 27.42 539.54 C28.29 540.51 29.13 541.91 29.16 543.19 C29.19 544.46 28.43 546.24 27.60 547.18 C26.76 548.12 25.31 548.72 24.13 548.82 C22.94 548.93 21.52 548.43 20.48 547.78 C19.44 547.13 18.46 545.98 17.88 544.92 C17.30 543.87 17.16 542.03 17.01 541.45 C16.55 542.14 15.00 543.98 14.24 545.61 C13.47 547.25 12.67 549.37 12.41 551.25 C12.15 553.13 12.20 555.08 12.67 556.89 C13.15 558.70 14.12 560.51 15.28 562.10 C16.43 563.69 17.88 565.06 19.61 566.43 C21.35 567.81 23.52 569.18 25.69 570.34 C27.86 571.49 30.17 572.43 32.63 573.37 C35.08 574.31 37.98 575.25 40.43 575.98 C42.89 576.70 45.20 577.35 47.37 577.71 C49.54 578.07 51.57 578.22 53.45 578.14 C55.33 578.07 57.06 577.78 58.65 577.28 C60.24 576.77 61.83 576.05 62.99 575.11 C64.14 574.17 65.01 573.08 65.59 571.64 C66.17 570.19 66.39 568.31 66.46 566.43 C66.53 564.55 66.46 562.53 66.02 560.36 C65.59 558.19 64.80 555.59 63.86 553.42 C62.92 551.25 61.69 549.23 60.39 547.35 C59.08 545.47 57.42 543.66 56.05 542.14 C54.67 540.63 52.80 538.89 52.14 538.24 Z"><title>C</title></path>
<text transform="translate(90.3 538.4) rotate(-90) skewX(-5)" font-family="Liberation Serif, serif" font-style="italic" font-size="39" fill="#008000">V</text>
<g stroke-width="2.3" fill="none">
<line x1="526.8" y1="578.3" x2="600.1" y2="578.3" stroke="#808000" stroke-linecap="round" stroke-dasharray="7.06 6.04 0.66 6.54 0.66 6.44" stroke-dashoffset="26.48"/>
<line x1="526.8" y1="618.5" x2="600.1" y2="618.5" stroke="#008080" stroke-linecap="round" stroke-dasharray="9.16 6.24 1.26 6.34" stroke-dashoffset="22.08"/>
<line x1="526.8" y1="658.7" x2="598.1" y2="658.7" stroke="#808080" stroke-linecap="round" stroke-dasharray="8.06 10.14" stroke-dashoffset="17.28"/>
<line x1="526.8" y1="699.0" x2="600.1" y2="699.0" stroke="#0000ff" stroke-linecap="round" stroke-dasharray="2.96 5.48" stroke-dashoffset="7.52"/>
<line x1="526.8" y1="739.2" x2="601.0" y2="739.2" stroke="#ff0000"/>
</g>
<text transform="translate(608.9 589.40) scale(1 1.1)" font-family="Liberation Serif, serif" font-size="27.3" fill="#808000" stroke="#808000" stroke-width="0.3">Λ</text>
<g transform="translate(629.90 589.40) scale(1 1.050)"><text x="0" y="0" font-family="Liberation Sans, sans-serif" font-size="31.30" letter-spacing="0.45" fill="#808000" stroke="#808000" stroke-width="0.35">=-5</text></g>
<text transform="translate(608.9 629.60) scale(1 1.1)" font-family="Liberation Serif, serif" font-size="27.3" fill="#008080" stroke="#008080" stroke-width="0.3">Λ</text>
<g transform="translate(629.90 629.60) scale(1 1.050)"><text x="0" y="0" font-family="Liberation Sans, sans-serif" font-size="31.30" letter-spacing="0.45" fill="#008080" stroke="#008080" stroke-width="0.35">=-<tspan dx="0.94">1</tspan></text><rect x="32.07" y="-4.13" width="6.17" height="6.11" fill="#fff"/><rect x="41.35" y="-4.13" width="6.53" height="6.11" fill="#fff"/></g>
<text transform="translate(608.9 669.80) scale(1 1.1)" font-family="Liberation Serif, serif" font-size="27.3" fill="#808080" stroke="#808080" stroke-width="0.3">Λ</text>
<g transform="translate(629.90 669.80) scale(1 1.050)"><text x="0" y="0" font-family="Liberation Sans, sans-serif" font-size="31.30" letter-spacing="0.45" fill="#808080" stroke="#808080" stroke-width="0.35">=-0.5</text></g>
<text transform="translate(608.9 710.10) scale(1 1.1)" font-family="Liberation Serif, serif" font-size="27.3" fill="#0000ff" stroke="#0000ff" stroke-width="0.3">Λ</text>
<g transform="translate(629.90 710.10) scale(1 1.050)"><text x="0" y="0" font-family="Liberation Sans, sans-serif" font-size="31.30" letter-spacing="0.45" fill="#0000ff" stroke="#0000ff" stroke-width="0.35">=-0.2</text></g>
<text transform="translate(608.9 750.30) scale(1 1.1)" font-family="Liberation Serif, serif" font-size="27.3" fill="#ff0000" stroke="#ff0000" stroke-width="0.3">Λ</text>
<g transform="translate(629.90 750.30) scale(1 1.050)"><text x="0" y="0" font-family="Liberation Sans, sans-serif" font-size="31.30" letter-spacing="0.45" fill="#ff0000" stroke="#ff0000" stroke-width="0.35">=-0.<tspan dx="0.94">1</tspan><tspan dx="-0.94">5</tspan></text><rect x="59.07" y="-4.13" width="6.17" height="6.11" fill="#fff"/><rect x="68.36" y="-4.13" width="6.53" height="6.11" fill="#fff"/></g>
</svg>
</body></html>
